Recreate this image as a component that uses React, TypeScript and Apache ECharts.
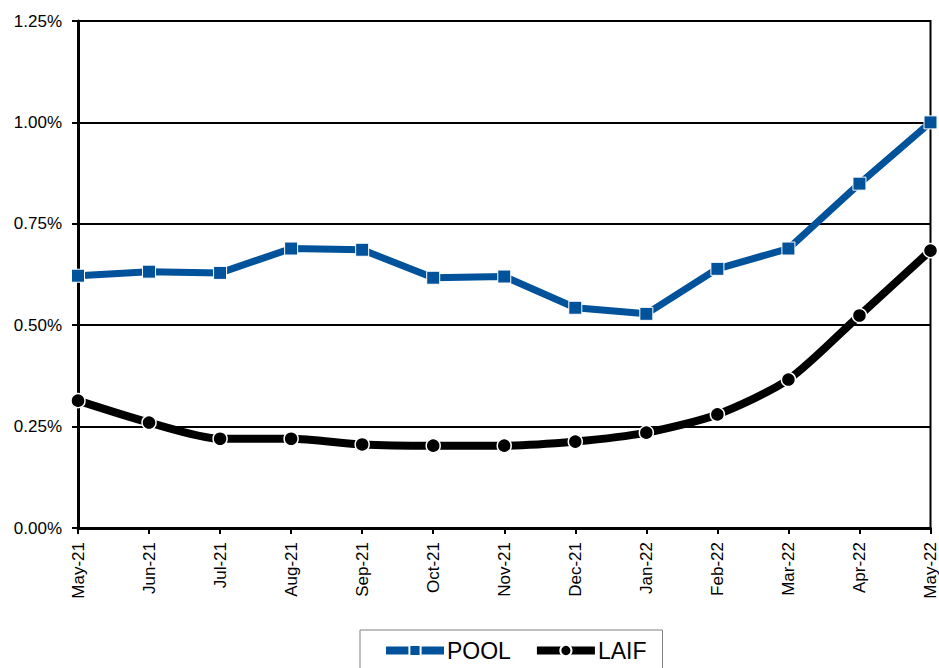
import React, { useEffect, useRef } from "react";
import * as echarts from "echarts";

const categories = ["May-21", "Jun-21", "Jul-21", "Aug-21", "Sep-21", "Oct-21", "Nov-21", "Dec-21", "Jan-22", "Feb-22", "Mar-22", "Apr-22", "May-22"];
const poolValues = [0.622, 0.632, 0.629, 0.689, 0.686, 0.617, 0.62, 0.543, 0.528, 0.639, 0.689, 0.849, 1.0];
const laifValues = [0.314, 0.26, 0.22, 0.22, 0.206, 0.203, 0.203, 0.213, 0.235, 0.28, 0.366, 0.524, 0.684];
const yTicks = { min: 0, max: 1.25, interval: 0.25 };

export default function App() {
  const ref = useRef<HTMLDivElement>(null);
  useEffect(() => {
    if (!ref.current) return;
    const chart = echarts.init(ref.current, null, { renderer: "svg" });
    const font = "'Liberation Sans', Arial, sans-serif";
    chart.setOption({
      animation: false,
      backgroundColor: "#ffffff",
      grid: {
        left: 78,
        right: 7,
        top: 21,
        bottom: 140,
        show: true,
        borderColor: "#000",
        borderWidth: 2,
        backgroundColor: "transparent",
      },
      legend: {
        data: ["POOL", "LAIF"],
        top: 630,
        left: 360,
        borderColor: "#808080",
        borderWidth: 1,
        padding: [9, 16, 30, 22],
        itemGap: 22,
        itemWidth: 58,
        itemHeight: 14,
        lineStyle: { width: 8 },
        textStyle: { fontFamily: font, fontSize: 23, color: "#000", padding: [0, 0, 0, -2] },
      },
      xAxis: {
        type: "category",
        data: categories,
        boundaryGap: false,
        axisLine: { lineStyle: { color: "#000", width: 3 } },
        axisTick: { show: true, alignWithLabel: true, length: 6, lineStyle: { color: "#000", width: 2 } },
        axisLabel: { rotate: 90, fontFamily: font, fontSize: 17, color: "#000", margin: 14 },
        splitLine: { show: false },
      },
      yAxis: {
        type: "value",
        min: yTicks.min,
        max: yTicks.max,
        interval: yTicks.interval,
        axisLine: { show: true, lineStyle: { color: "#000", width: 3 } },
        axisTick: { show: true, length: 6, lineStyle: { color: "#000", width: 2 } },
        axisLabel: {
          fontFamily: font,
          fontSize: 17,
          color: "#000",
          margin: 16,
          formatter: (v: number) => v.toFixed(2) + "%",
        },
        splitLine: { show: true, lineStyle: { color: "#000", width: 2 } },
      },
      series: [
        {
          name: "POOL",
          type: "line",
          data: poolValues,
          symbol: "rect",
          symbolSize: 13,
          itemStyle: { color: "#00529B", borderColor: "#ffffff", borderWidth: 1 },
          lineStyle: { color: "#00529B", width: 7 },
          z: 3,
        },
        {
          name: "LAIF",
          type: "line",
          data: laifValues,
          smooth: 0.25,
          symbol: "circle",
          symbolSize: 14,
          itemStyle: { color: "#000000", borderColor: "#ffffff", borderWidth: 1.5 },
          lineStyle: { color: "#000000", width: 8 },
          z: 3,
        },
      ],
    });
    return () => chart.dispose();
  }, []);
  return (
    <div
      ref={ref}
      style={{ position: "fixed", left: 0, top: 0, width: 939, height: 668 }}
    />
  );
}
